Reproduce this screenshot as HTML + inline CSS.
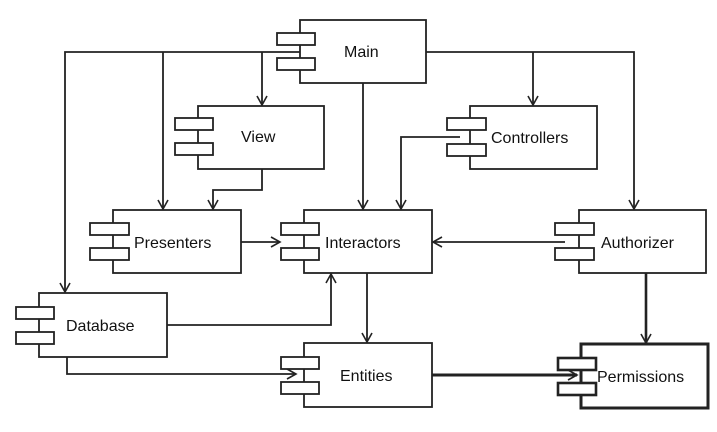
<!DOCTYPE html>
<html><head><style>body{margin:0;background:#fff}</style></head><body>
<svg width="717" height="427" viewBox="0 0 717 427" xmlns="http://www.w3.org/2000/svg" font-family="Liberation Sans, sans-serif" font-size="16">
<defs>
<marker id="a" markerWidth="12" markerHeight="12" refX="10" refY="6" orient="auto" markerUnits="userSpaceOnUse"><path d="M1,1 L10,6 L1,11" fill="none" stroke="#222" stroke-width="1.6"/></marker>
</defs>
<g fill="none" stroke="#222" stroke-width="1.8">
<path d="M300,52 H65 V292" marker-end="url(#a)"/>
<path d="M163,52 V209" marker-end="url(#a)"/>
<path d="M262,52 V105" marker-end="url(#a)"/>
<path d="M426,52 H634 V209" marker-end="url(#a)"/>
<path d="M533,52 V105" marker-end="url(#a)"/>
<path d="M363,83 V209" marker-end="url(#a)"/>
<path d="M262,169 V190 H213 V209" marker-end="url(#a)"/>
<path d="M460,137 H401 V209" marker-end="url(#a)"/>
<path d="M241,242 H280" marker-end="url(#a)"/>
<path d="M565,242 H433" marker-end="url(#a)"/>
<path d="M167,325 H331 V274" marker-end="url(#a)"/>
<path d="M67,357 V374 H296" marker-end="url(#a)"/>
<path d="M367,273 V342" marker-end="url(#a)"/>
<path d="M646,273 V343" stroke-width="2.6" marker-end="url(#a)"/>
<path d="M432,375 H577" stroke-width="3" marker-end="url(#a)"/>
</g>
<g fill="#fff" stroke="#222" stroke-width="1.8">
<rect x="300" y="20" width="126" height="63"/><rect x="277" y="33" width="38" height="12"/><rect x="277" y="58" width="38" height="12"/>
<rect x="198" y="106" width="126" height="63"/><rect x="175" y="118" width="38" height="12"/><rect x="175" y="143" width="38" height="12"/>
<rect x="470" y="106" width="127" height="63"/><rect x="447" y="118" width="39" height="12"/><rect x="447" y="144" width="39" height="12"/>
<rect x="113" y="210" width="128" height="63"/><rect x="90" y="223" width="39" height="12"/><rect x="90" y="248" width="39" height="12"/>
<rect x="304" y="210" width="128" height="63"/><rect x="281" y="223" width="38" height="12"/><rect x="281" y="248" width="38" height="12"/>
<rect x="579" y="210" width="127" height="63"/><rect x="555" y="223" width="39" height="12"/><rect x="555" y="248" width="39" height="12"/>
<rect x="39" y="293" width="128" height="64"/><rect x="16" y="307" width="38" height="12"/><rect x="16" y="332" width="38" height="12"/>
<rect x="304" y="343" width="128" height="64"/><rect x="281" y="357" width="38" height="12"/><rect x="281" y="382" width="38" height="12"/>
<rect x="581" y="344" width="127" height="64" stroke-width="3"/><rect x="558" y="358" width="38" height="12" stroke-width="2.6"/><rect x="558" y="383" width="38" height="12" stroke-width="2.6"/>
</g>
<g fill="#111">
<text x="344" y="57">Main</text>
<text x="241" y="142">View</text>
<text x="491" y="143">Controllers</text>
<text x="134" y="248">Presenters</text>
<text x="325" y="248">Interactors</text>
<text x="601" y="248">Authorizer</text>
<text x="66" y="331">Database</text>
<text x="340" y="381">Entities</text>
<text x="597" y="382">Permissions</text>
</g>
</svg>
</body></html>
